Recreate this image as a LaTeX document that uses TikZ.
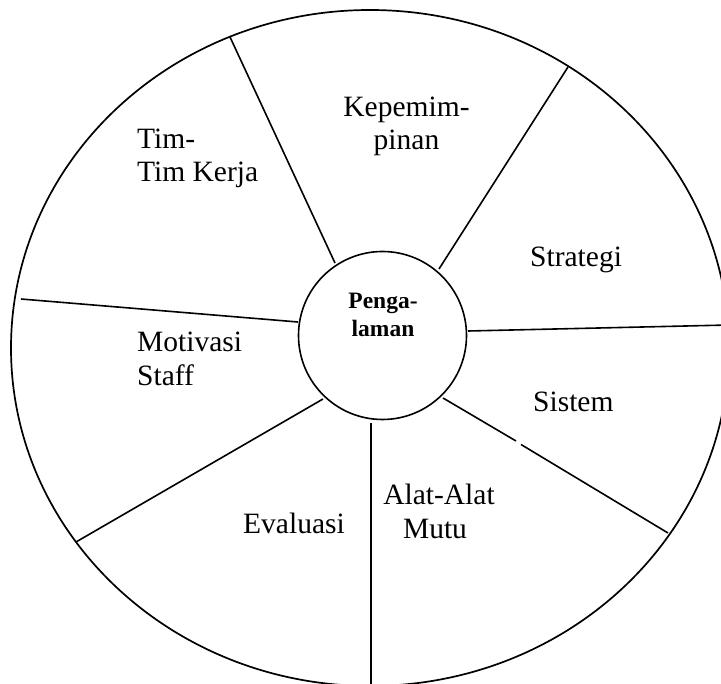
\documentclass[tikz,border=0pt]{standalone}
\usepackage{fontspec}
\setmainfont{Liberation Serif}
\begin{document}
\begin{tikzpicture}[x=1pt,y=-1pt,
  rim/.style={line width=1.7pt},
  spoke/.style={line width=1.6pt},
  lbl/.style={inner sep=0pt,font=\fontsize{29.5}{33}\selectfont},
  core/.style={inner sep=0pt,font=\fontsize{23.5}{28}\selectfont\bfseries}]
\useasboundingbox (0,0) rectangle (721,684);
% outer wheel and hub
\draw[rim] (370,348) ellipse [x radius=359, y radius=338];
\node[draw,circle,line width=1.6pt,minimum size=168pt,inner sep=0pt] (hub) at (382.5,335.5) {};
% spoke end points
\coordinate (a1) at (335,263);   \coordinate (o1) at (230,37);
\coordinate (a2) at (439,269);   \coordinate (o2) at (568,67);
\coordinate (a3) at (468,331);   \coordinate (o3) at (729,325);
\coordinate (a4) at (443,398);   \coordinate (o4) at (668,533);
\coordinate (g1) at (516,441);   \coordinate (g2) at (521,444.5);
\coordinate (a5) at (371,423);   \coordinate (o5) at (371,690);
\coordinate (a6) at (323,399);   \coordinate (o6) at (76,542);
\coordinate (a7) at (298,322);   \coordinate (o7) at (21,299);
\draw[spoke] (a1) -- (o1);
\draw[spoke] (a2) -- (o2);
\draw[spoke] (a3) -- (o3);
\draw[spoke] (a4) -- (g1);
\draw[spoke] (g2) -- (o4);
\draw[spoke] (a5) -- (o5);
\draw[spoke] (a6) -- (o6);
\draw[spoke] (a7) -- (o7);
% labels
\node[core,anchor=base] (p1) at (383,309) {Penga-};
\node[core,anchor=base] (p2) at (383,337) {laman};
\node[lbl,anchor=base] (k1) at (406.5,117) {Kepemim-};
\node[lbl,anchor=base] (k2) at (406.5,150) {pinan};
\node[lbl,anchor=base west] (t1) at (137,149) {Tim-};
\node[lbl,anchor=base west] (t2) at (137,182) {Tim Kerja};
\node[lbl,anchor=base west] (s1) at (530,267) {Strategi};
\node[lbl,anchor=base west] (m1) at (137,352) {Motivasi};
\node[lbl,anchor=base west] (m2) at (137,386) {Staff};
\node[lbl,anchor=base west] (si) at (533,412) {Sistem};
\node[lbl,anchor=base west] (ev) at (243,534) {Evaluasi};
\node[lbl,anchor=base] (al1) at (439,505) {Alat-Alat};
\node[lbl,anchor=base] (al2) at (435,539) {Mutu};
\end{tikzpicture}
\end{document}
